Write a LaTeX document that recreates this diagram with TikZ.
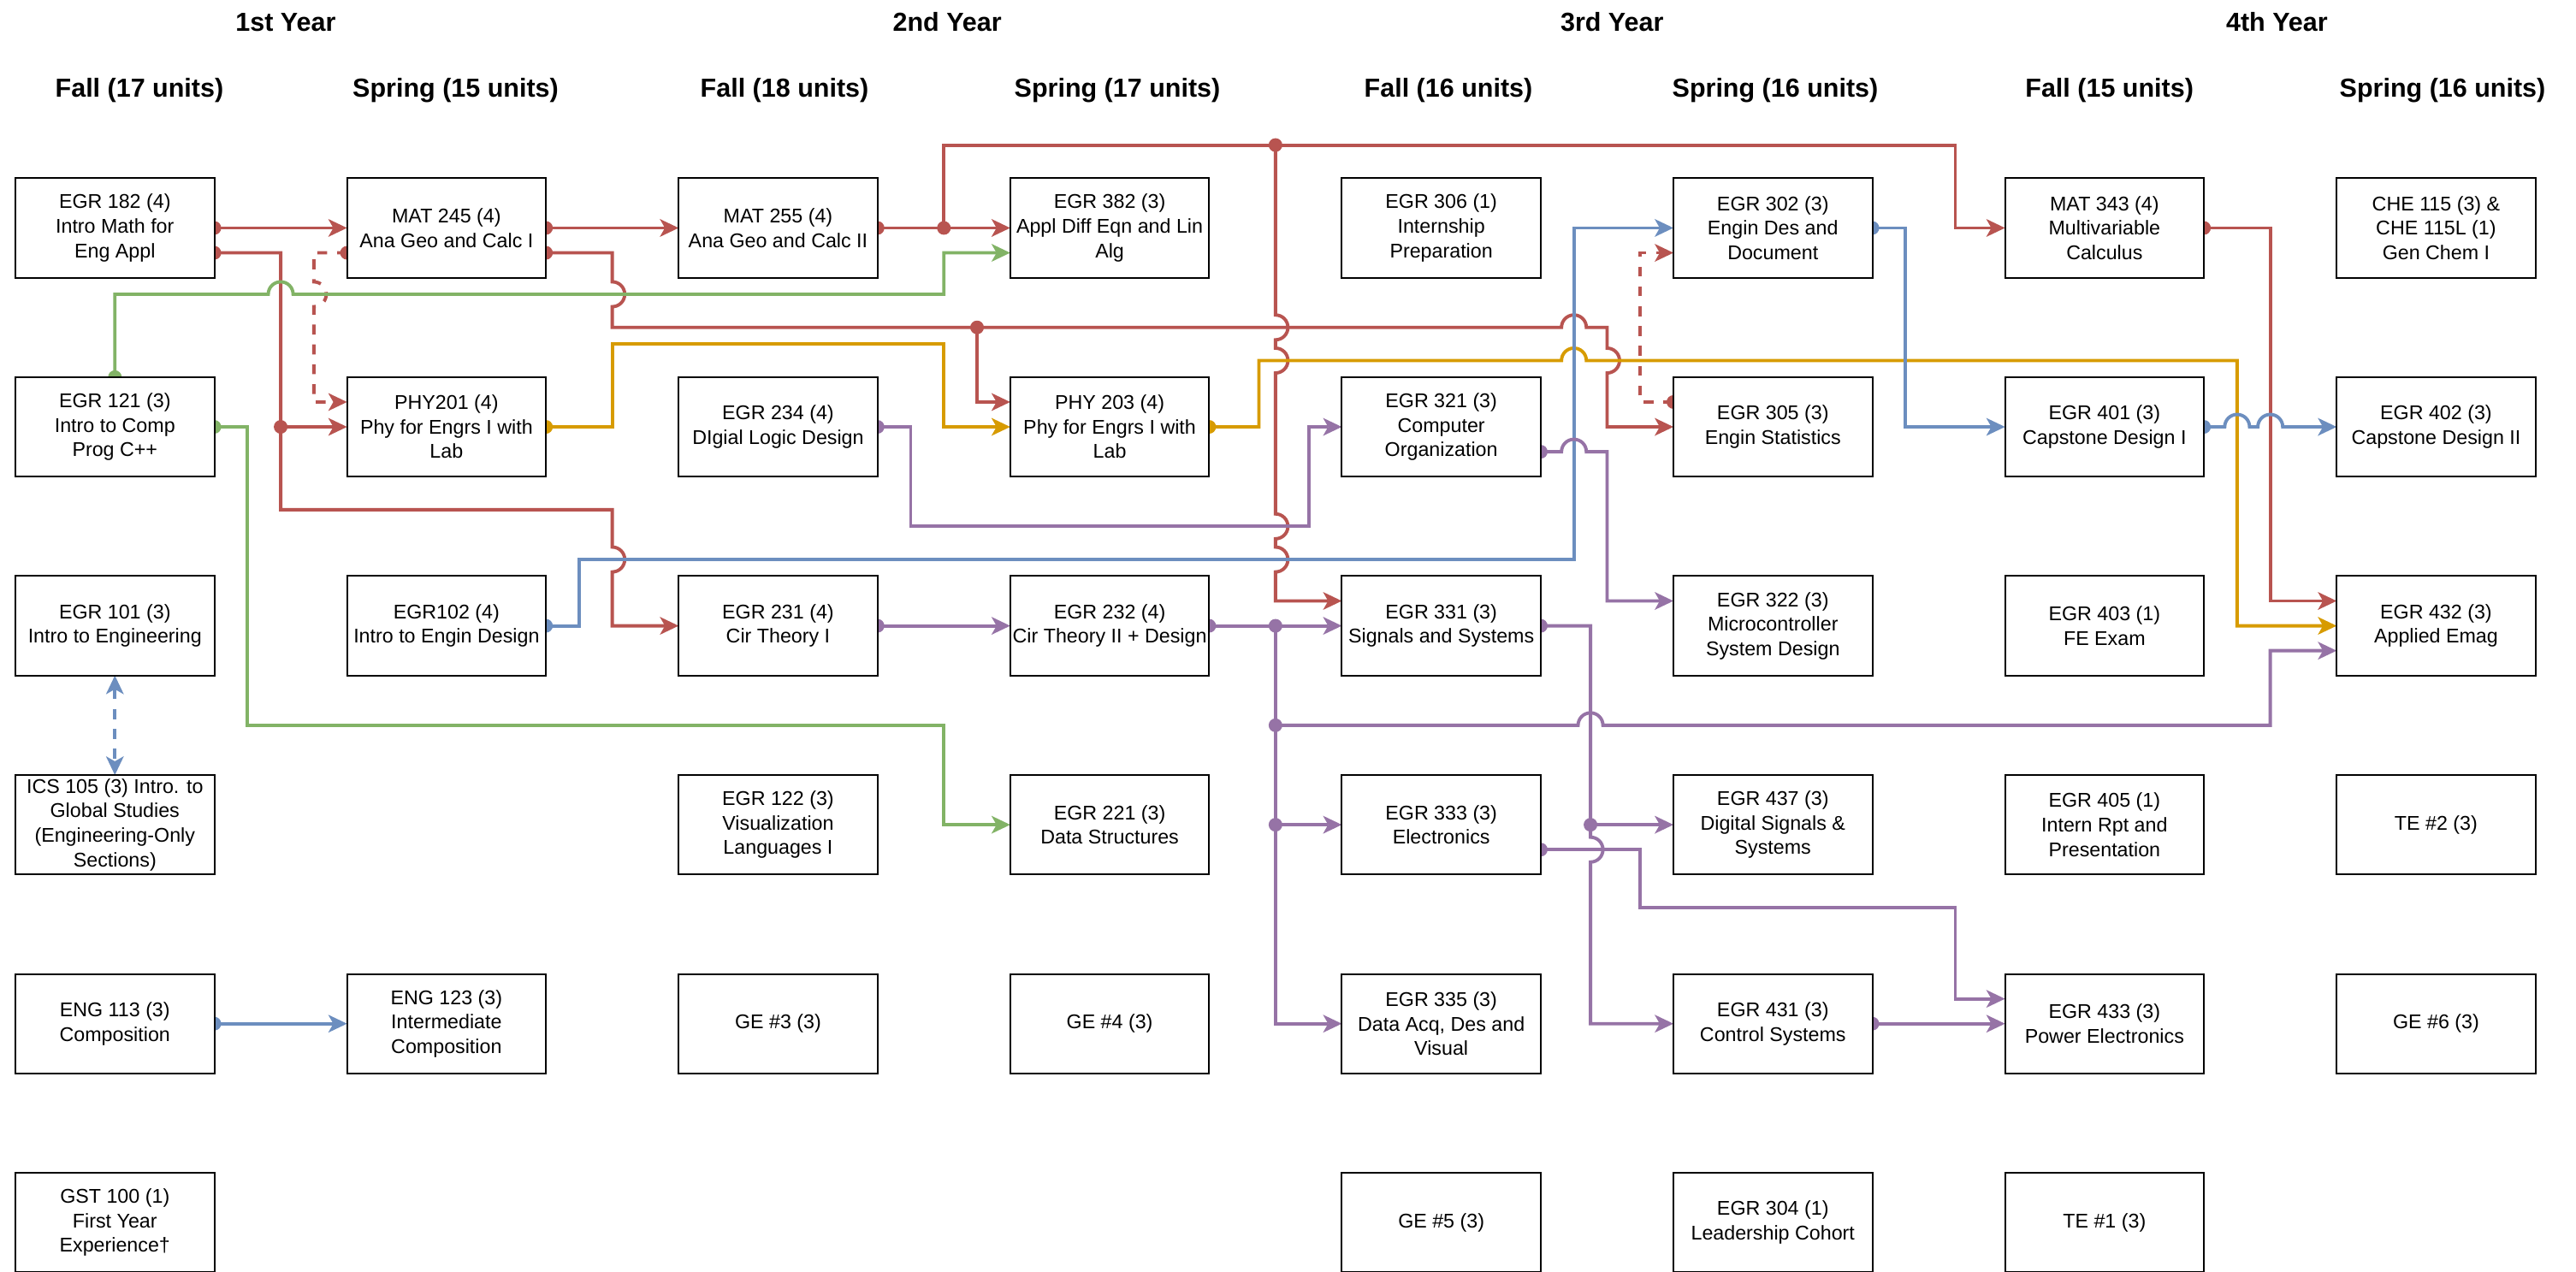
\documentclass[tikz,border=0pt]{standalone}
\usepackage{fontspec}
\setmainfont{Liberation Sans}
\usetikzlibrary{arrows.meta,calc}
\pgfdeclarelayer{back}
\pgfdeclarelayer{bg}
\pgfsetlayers{back,bg,main}
\definecolor{cred}{HTML}{B85450}
\definecolor{cgreen}{HTML}{82B366}
\definecolor{cblue}{HTML}{6C8EBF}
\definecolor{corange}{HTML}{D79B00}
\definecolor{cpurple}{HTML}{9673A6}
\def\jr{14.535pt}
\tikzset{
  course/.style={draw=black,line width=1.938pt,fill=white,minimum width=232.56pt,minimum height=116.28pt,inner sep=0pt,outer sep=0pt,align=center,font=\fontsize{23.26pt}{28.6pt}\selectfont},
  yearhead/.style={anchor=base,font=\bfseries\fontsize{30.5pt}{36pt}\selectfont},
  semhead/.style={anchor=base,font=\bfseries\fontsize{30.5pt}{36pt}\selectfont},
  tipA/.tip={Stealth[length=22pt,width=21pt,inset=6pt,line width=0pt]},
  conn/.style={line width=3.876pt,-{tipA}},
  dsh/.style={dash pattern=on 11.6pt off 11.6pt},
  dotr/.style={radius=8pt},
}
\begin{document}
\begin{tikzpicture}[x=1.938pt,y=-1.938pt]
\begin{pgfonlayer}{back}
\fill[white] (-9.29,-107.5) rectangle (1544.4,659.3);
\end{pgfonlayer}
\useasboundingbox (-9.29,-107.5) rectangle (1544.4,659.3);
% headers
\node[yearhead] (y1) at (163,-88.9) {1st Year};
\node[yearhead] (y2) at (562,-88.9) {2nd Year};
\node[yearhead] (y3) at (963,-88.9) {3rd Year};
\node[yearhead] (y4) at (1364,-88.9) {4th Year};
\node[semhead] (s1) at (74.8,-48.7) {Fall (17 units)};
\node[semhead] (s2) at (265.5,-48.7) {Spring (15 units)};
\node[semhead] (s3) at (463.9,-48.7) {Fall (18 units)};
\node[semhead] (s4) at (664.6,-48.7) {Spring (17 units)};
\node[semhead] (s5) at (864.3,-48.7) {Fall (16 units)};
\node[semhead] (s6) at (1061.4,-48.7) {Spring (16 units)};
\node[semhead] (s7) at (1263,-48.7) {Fall (15 units)};
\node[semhead] (s8) at (1463.9,-48.7) {Spring (16 units)};
% row 1
\node[course] (b182) at (60,30) {EGR 182 (4)\\Intro Math for\\Eng Appl};
\node[course] (m245) at (260,30) {MAT 245 (4)\\Ana Geo and Calc I};
\node[course] (m255) at (460,30) {MAT 255 (4)\\Ana Geo and Calc II};
\node[course] (b382) at (660,30) {EGR 382 (3)\\Appl Diff Eqn and Lin\\Alg};
\node[course] (b306) at (860,30) {EGR 306 (1)\\Internship\\Preparation};
\node[course] (b302) at (1060,30) {EGR 302 (3)\\Engin Des and\\Document};
\node[course] (m343) at (1260,30) {MAT 343 (4)\\Multivariable\\Calculus};
\node[course] (c115) at (1460,30) {CHE 115 (3) \&\\CHE 115L (1)\\Gen Chem I};
% row 2
\node[course] (b121) at (60,150) {EGR 121 (3)\\Intro to Comp\\Prog C++};
\node[course] (p201) at (260,150) {PHY201 (4)\\Phy for Engrs I with\\Lab};
\node[course] (b234) at (460,150) {EGR 234 (4)\\DIgial Logic Design};
\node[course] (p203) at (660,150) {PHY 203 (4)\\Phy for Engrs I with\\Lab};
\node[course] (b321) at (860,150) {EGR 321 (3)\\Computer\\Organization};
\node[course] (b305) at (1060,150) {EGR 305 (3)\\Engin Statistics};
\node[course] (b401) at (1260,150) {EGR 401 (3)\\Capstone Design I};
\node[course] (b402) at (1460,150) {EGR 402 (3)\\Capstone Design II};
% row 3
\node[course] (b101) at (60,270) {EGR 101 (3)\\Intro to Engineering};
\node[course] (b102) at (260,270) {EGR102 (4)\\Intro to Engin Design};
\node[course] (b231) at (460,270) {EGR 231 (4)\\Cir Theory I};
\node[course] (b232) at (660,270) {EGR 232 (4)\\Cir Theory II + Design};
\node[course] (b331) at (860,270) {EGR 331 (3)\\Signals and Systems};
\node[course] (b322) at (1060,270) {EGR 322 (3)\\Microcontroller\\System Design};
\node[course] (b403) at (1260,270) {EGR 403 (1)\\FE Exam};
\node[course] (b432) at (1460,270) {EGR 432 (3)\\Applied Emag};
% row 4
\node[course] (b105) at (60,390) {ICS 105 (3) Intro. to\\Global Studies\\(Engineering-Only\\Sections)};
\node[course] (b122) at (460,390) {EGR 122 (3)\\Visualization\\Languages I};
\node[course] (b221) at (660,390) {EGR 221 (3)\\Data Structures};
\node[course] (b333) at (860,390) {EGR 333 (3)\\Electronics};
\node[course] (b437) at (1060,390) {EGR 437 (3)\\Digital Signals \&\\Systems};
\node[course] (b405) at (1260,390) {EGR 405 (1)\\Intern Rpt and\\Presentation};
\node[course] (te2) at (1460,390) {TE \#2 (3)};
% row 5
\node[course] (b113) at (60,510) {ENG 113 (3)\\Composition};
\node[course] (e123) at (260,510) {ENG 123 (3)\\Intermediate\\Composition};
\node[course] (ge3) at (460,510) {GE \#3 (3)};
\node[course] (ge4) at (660,510) {GE \#4 (3)};
\node[course] (b335) at (860,510) {EGR 335 (3)\\Data Acq, Des and\\Visual};
\node[course] (b431) at (1060,510) {EGR 431 (3)\\Control Systems};
\node[course] (b433) at (1260,510) {EGR 433 (3)\\Power Electronics};
\node[course] (ge6) at (1460,510) {GE \#6 (3)};
% row 6
\node[course] (b100) at (60,630) {GST 100 (1)\\First Year\\Experience†};
\node[course] (ge5) at (860,630) {GE \#5 (3)};
\node[course] (b304) at (1060,630) {EGR 304 (1)\\Leadership Cohort};
\node[course] (te1) at (1260,630) {TE \#1 (3)};

\begin{pgfonlayer}{bg}
% ---- red
\draw[conn,cred] (b182.east) -- (m245.west);
\draw[conn,cred] ($(b182.east)+(0,15)$) -- (160,45) -- (160,200) -- (360,200) -- (360,222.5) arc[start angle=90,end angle=-90,radius=\jr] -- (360,270) -- (b231.west);
\draw[conn,cred] (160,150) -- (p201.west);
\draw[conn,cred,dsh] ($(m245.west)+(0,15)$) -- (180,45) -- (180,62.5) arc[start angle=90,end angle=-90,radius=\jr] -- (180,135) -- ($(p201.west)+(0,-15)$);
\draw[conn,cred] (m245.east) -- (m255.west);
\draw[conn,cred] ($(m245.east)+(0,15)$) -- (360,45) -- (360,62.5) arc[start angle=90,end angle=-90,radius=\jr] -- (360,90) -- (932.5,90) arc[start angle=180,end angle=0,radius=\jr] -- (960,90) -- (960,102.5) arc[start angle=90,end angle=-90,radius=\jr] -- (960,150) -- (b305.west);
\draw[conn,cred] (580,90) -- (580,135) -- ($(p203.west)+(0,-15)$);
\draw[conn,cred] (m255.east) -- (b382.west);
\draw[conn,cred] (560,30) -- (560,-20) -- (1170,-20) -- (1170,30) -- (m343.west);
\draw[conn,cred] (760,-20) -- (760,82.5) arc[start angle=90,end angle=-90,radius=\jr] -- (760,102.5) arc[start angle=90,end angle=-90,radius=\jr] -- (760,202.5) arc[start angle=90,end angle=-90,radius=\jr] -- (760,222.5) arc[start angle=90,end angle=-90,radius=\jr] -- (760,255) -- ($(b331.west)+(0,-15)$);
\draw[conn,cred,dsh] ($(b305.west)+(0,-15)$) -- (980,135) -- (980,45) -- ($(b302.west)+(0,15)$);
\draw[conn,cred] (m343.east) -- (1360,30) -- (1360,255) -- ($(b432.west)+(0,-15)$);
% ---- green
\draw[conn,cgreen] (b121.north) -- (60,70) -- (152.5,70) arc[start angle=180,end angle=0,radius=\jr] -- (560,70) -- (560,45) -- ($(b382.west)+(0,15)$);
\draw[conn,cgreen] (b121.east) -- (140,150) -- (140,330) -- (560,330) -- (560,390) -- (b221.west);
% ---- orange
\draw[conn,corange] (p201.east) -- (360,150) -- (360,100) -- (560,100) -- (560,150) -- (p203.west);
\draw[conn,corange] (p203.east) -- (750,150) -- (750,110) -- (932.5,110) arc[start angle=180,end angle=0,radius=\jr] -- (1340,110) -- (1340,270) -- (b432.west);
% ---- blue
\draw[conn,cblue] (b102.east) -- (340,270) -- (340,230) -- (940,230) -- (940,30) -- (b302.west);
\draw[conn,cblue] (b302.east) -- (1140,30) -- (1140,150) -- (b401.west);
\draw[conn,cblue] (b401.east) -- (1332.5,150) arc[start angle=180,end angle=0,radius=\jr] -- (1352.5,150) arc[start angle=180,end angle=0,radius=\jr] -- (b402.west);
\draw[conn,cblue] (b113.east) -- (e123.west);
\draw[cblue,line width=3.876pt,dsh,{tipA}-{tipA}] (b101.south) -- (b105.north);
% ---- purple
\draw[conn,cpurple] (b234.east) -- (540,150) -- (540,210) -- (780,210) -- (780,150) -- (b321.west);
\draw[conn,cpurple] ($(b321.east)+(0,15)$) -- (932.5,165) arc[start angle=180,end angle=0,radius=\jr] -- (960,165) -- (960,255) -- ($(b322.west)+(0,-15)$);
\draw[conn,cpurple] (b231.east) -- (b232.west);
\draw[conn,cpurple] (b232.east) -- (b331.west);
\draw[conn,cpurple] (760,270) -- (760,510) -- (b335.west);
\draw[conn,cpurple] (760,390) -- (b333.west);
\draw[conn,cpurple] (760,330) -- (942.5,330) arc[start angle=180,end angle=0,radius=\jr] -- (1360,330) -- (1360,285) -- ($(b432.west)+(0,15)$);
\draw[conn,cpurple] (b331.east) -- (950,270) -- (950,397.5) arc[start angle=90,end angle=-90,radius=\jr] -- (950,510) -- (b431.west);
\draw[conn,cpurple] (950,390) -- (b437.west);
\draw[conn,cpurple] ($(b333.east)+(0,15)$) -- (980,405) -- (980,440) -- (1170,440) -- (1170,495) -- ($(b433.west)+(0,-15)$);
\draw[conn,cpurple] (b431.east) -- (b433.west);
% ---- start dots (half hidden by boxes) and junction dots
\fill[cred] (b182.east) circle[dotr];
\fill[cred] ($(b182.east)+(0,15)$) circle[dotr];
\fill[cred] (m245.east) circle[dotr];
\fill[cred] ($(m245.east)+(0,15)$) circle[dotr];
\fill[cred] ($(m245.west)+(0,15)$) circle[dotr];
\fill[cred] (m255.east) circle[dotr];
\fill[cred] ($(b305.west)+(0,-15)$) circle[dotr];
\fill[cred] (m343.east) circle[dotr];
\fill[cred] (160,150) circle[dotr];
\fill[cred] (560,30) circle[dotr];
\fill[cred] (760,-20) circle[dotr];
\fill[cred] (580,90) circle[dotr];
\fill[cgreen] (b121.north) circle[dotr];
\fill[cgreen] (b121.east) circle[dotr];
\fill[corange] (p201.east) circle[dotr];
\fill[corange] (p203.east) circle[dotr];
\fill[cblue] (b102.east) circle[dotr];
\fill[cblue] (b302.east) circle[dotr];
\fill[cblue] (b401.east) circle[dotr];
\fill[cblue] (b113.east) circle[dotr];
\fill[cpurple] (b234.east) circle[dotr];
\fill[cpurple] ($(b321.east)+(0,15)$) circle[dotr];
\fill[cpurple] (b231.east) circle[dotr];
\fill[cpurple] (b232.east) circle[dotr];
\fill[cpurple] (b331.east) circle[dotr];
\fill[cpurple] ($(b333.east)+(0,15)$) circle[dotr];
\fill[cpurple] (b431.east) circle[dotr];
\fill[cpurple] (760,270) circle[dotr];
\fill[cpurple] (760,330) circle[dotr];
\fill[cpurple] (760,390) circle[dotr];
\fill[cpurple] (950,390) circle[dotr];
\end{pgfonlayer}
\end{tikzpicture}
\end{document}
